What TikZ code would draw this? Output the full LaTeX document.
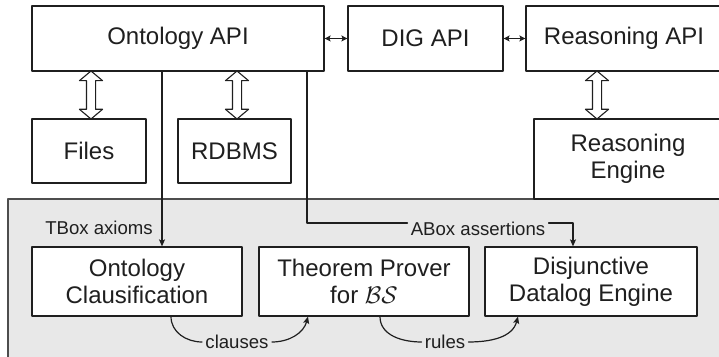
\documentclass[tikz,border=0pt]{standalone}
\usepackage{fontspec}
\setmainfont{Liberation Sans}
\usetikzlibrary{arrows.meta,shapes.arrows}
\definecolor{panelgray}{HTML}{E8E8E8}
\definecolor{edgegray}{HTML}{4D4D4D}
\definecolor{inkgray}{HTML}{1F1F1F}
\tikzset{
  box/.style={draw=inkgray, line width=0.6pt, fill=white, text=inkgray, align=center,
    inner sep=0pt, font=\fontsize{12}{13.6}\selectfont},
  hollow/.style={double arrow, draw=inkgray, fill=white, line width=0.55pt, rotate=90,
    minimum height=24pt, inner xsep=0pt, inner ysep=2pt,
    double arrow head extend=3.5pt, double arrow tip angle=100},
  link/.style={line width=0.6pt, draw=inkgray,
    {Stealth[length=3pt,width=3pt,inset=0.6pt]}-{Stealth[length=3pt,width=3pt,inset=0.6pt]}},
  flow/.style={line width=0.6pt, draw=inkgray, -{Stealth[length=3.5pt,width=3pt,inset=0.7pt]}},
  tag/.style={fill=panelgray, text=inkgray, inner sep=1.5pt, font=\fontsize{9.3}{11}\selectfont}
}
\begin{document}
\begin{tikzpicture}[x=0.5pt,y=0.5pt,line cap=round,line join=round]
  \useasboundingbox (0,0) rectangle (719,357);
  % lower panel, runs off the right and bottom edges
  \fill[panelgray] (8,158) rectangle (740,-20);
  \draw[edgegray, line width=0.7pt] (740,158) -- (8,158) -- (8,-20);

  % upper row
  \node[box, minimum width=146pt, minimum height=32.5pt] (ont) at (178,318.5) {Ontology API};
  \node[box, minimum width=77.5pt, minimum height=32.5pt] (dig) at (425.5,318.5) {DIG API};
  \node[box, minimum width=98pt, minimum height=32.5pt] (rapi) at (624,318.5) {Reasoning API};
  \node[box, minimum width=57pt, minimum height=32pt] (files) at (89,206) {Files};
  \node[box, minimum width=56.5pt, minimum height=32pt] (rdbms) at (234.5,206) {RDBMS};
  \node[box, minimum width=94pt, minimum height=40pt] (reng) at (628,198) {Reasoning\\Engine};

  % lower row
  \node[box, minimum width=105pt, minimum height=34.5pt] (ocl) at (137,75.5) {Ontology\\Clausification};
  \node[box, minimum width=105pt, minimum height=34.5pt] (tp) at (364,75.5) {Theorem Prover\\for $\mathcal{BS}$};
  \node[box, minimum width=106pt, minimum height=34.5pt] (dde) at (591,75.5) {Disjunctive\\Datalog Engine};

  % storage and engine links
  \node[hollow] (ofiles) at (91,262) {};
  \node[hollow] (ordbms) at (237,262) {};
  \node[hollow] (oreng) at (597,262) {};
  \draw[link] (ont.east) -- (dig.west);
  \draw[link] (dig.east) -- (rapi.west);

  % TBox
  \coordinate (tx) at (162,0);
  \draw[flow] (ont.south -| tx) -- (ocl.north -| tx);
  \node[tag] (tbox) at (99,129) {TBox axioms};

  % ABox
  \coordinate (ax) at (307,134);
  \coordinate (ay) at (573,134);
  \node[tag] (abox) at (478,128) {ABox assertions};
  \draw[line width=0.6pt, inkgray] (ont.south -| ax) -- (ax) -- (abox.west |- ax);
  \draw[flow] (abox.east |- ay) -- (ay) -- (dde.north -| ay);

  % clauses and rules
  \node[tag] (cl) at (237,15) {clauses};
  \draw[flow] (ocl.south -| 171,0) to[out=-90,in=180] (cl.west)
    (cl.east) to[out=0,in=-105] (tp.south -| 308,0);
  \node[tag] (ru) at (445,15) {rules};
  \draw[flow] (tp.south -| 380,0) to[out=-90,in=180] (ru.west)
    (ru.east) to[out=0,in=-105] (dde.south -| 518,0);
\end{tikzpicture}
\end{document}
